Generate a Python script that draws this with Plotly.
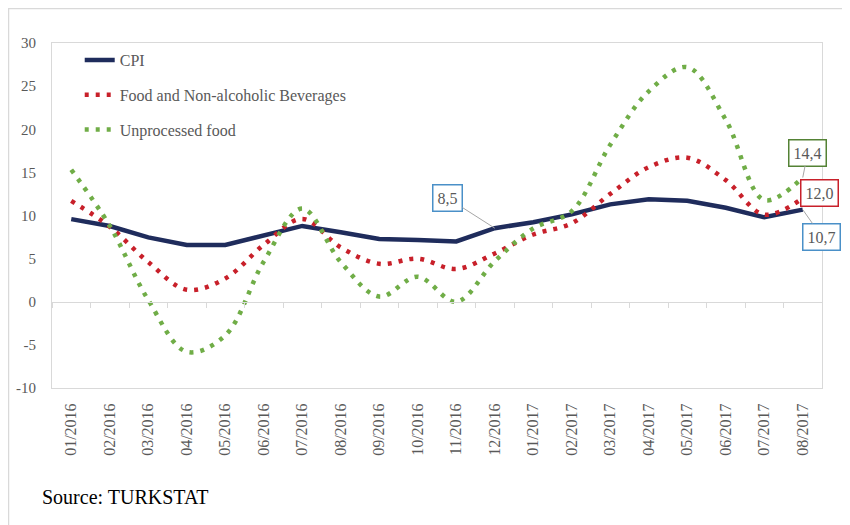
import plotly.graph_objects as go

months = ["01/2016", "02/2016", "03/2016", "04/2016", "05/2016", "06/2016", "07/2016",
          "08/2016", "09/2016", "10/2016", "11/2016", "12/2016", "01/2017", "02/2017",
          "03/2017", "04/2017", "05/2017", "06/2017", "07/2017", "08/2017"]
cpi = [9.58, 8.78, 7.46, 6.57, 6.58, 7.64, 8.79, 8.05, 7.28, 7.16, 7.00, 8.53,
       9.22, 10.13, 11.29, 11.87, 11.72, 10.90, 9.79, 10.68]
food = [11.7, 8.7, 4.6, 1.4, 2.7, 6.6, 9.6, 6.3, 4.4, 5.0, 3.8, 5.6,
        7.8, 9.1, 12.5, 15.6, 16.7, 14.1, 10.1, 12.0]
unproc = [15.3, 8.8, 0.2, -5.8, -3.9, 4.65, 10.8, 4.6, 0.6, 2.9, 0.0, 4.7,
          8.5, 10.5, 18.2, 24.4, 27.2, 21.1, 11.8, 14.4]
y_ticks = [-10, -5, 0, 5, 10, 15, 20, 25, 30]
y_labels = ["-10", "-5", "0", "5", "10", "15", "20", "25", "30"]

NAVY = "#1F2C5C"
RED = "#C8202A"
GREEN = "#70AD47"
GRID = "#D9D9D9"
TXT = "#595959"
FONT = "Liberation Serif"

fig = go.Figure()
fig.add_trace(go.Scatter(x=months, y=cpi, mode="lines", name="CPI",
                         line=dict(color=NAVY, width=4.5), legendgroup="a"))
fig.add_trace(go.Scatter(x=months, y=food, mode="lines", name="Food and Non-alcoholic Beverages",
                         line=dict(color=RED, width=4.5, dash="4px,7px", shape="spline", smoothing=1),
                         legendgroup="b"))
fig.add_trace(go.Scatter(x=months, y=unproc, mode="lines", name="Unprocessed food",
                         line=dict(color=GREEN, width=4.5, dash="4px,7px", shape="spline", smoothing=1),
                         legendgroup="c"))
# invisible trace to carry the zero-crossing axis with boundary ticks
fig.add_trace(go.Scatter(x=months, y=[None] * len(months), xaxis="x2", mode="lines",
                         showlegend=False, hoverinfo="skip"))

fig.update_layout(
    width=842, height=517,
    margin=dict(l=44, r=28, t=35, b=137, autoexpand=False),
    paper_bgcolor="white", plot_bgcolor="white",
    font=dict(family=FONT, color=TXT, size=16),
    showlegend=True,
    legend=dict(x=0.036, y=1.0, xanchor="left", yanchor="top",
                bgcolor="rgba(0,0,0,0)", font=dict(size=16, color=TXT, family=FONT),
                tracegroupgap=11),
    xaxis=dict(type="category", range=[-0.5, len(months) - 0.5], showline=True, mirror=True,
               linecolor=GRID, linewidth=1, showgrid=False, ticks="", tickangle=-90,
               tickfont=dict(size=16, color=TXT, family=FONT), ticklabelstandoff=8,
               automargin=False),
    xaxis2=dict(type="category", overlaying="x", anchor="free", position=0.25,
                range=[-0.5, len(months) - 0.5], showline=True, linecolor=GRID, linewidth=1,
                ticks="outside", tickson="boundaries", ticklen=5, tickcolor=GRID,
                showticklabels=False, showgrid=False, automargin=False),
    yaxis=dict(range=[-10, 30], tickvals=y_ticks, ticktext=y_labels, showline=True, mirror=True,
               linecolor=GRID, linewidth=1, showgrid=False, zeroline=False, ticks="",
               tickfont=dict(size=15, color=TXT, family=FONT), ticklabelstandoff=12,
               automargin=False),
)

def box(x, y, text, color, ax=None, ay=None):
    d = dict(x=x, y=y, xref="x", yref="y", text=text,
             font=dict(size=16, color=TXT, family=FONT),
             bgcolor="white", bordercolor=color, borderwidth=1.5, borderpad=4)
    if ax is None:
        d.update(showarrow=False)
    else:
        d.update(showarrow=True, ax=ax, ay=ay, arrowhead=0, arrowwidth=1, arrowcolor="#A6A6A6")
    fig.add_annotation(**d)

box(months[11], cpi[11], "8,5", "#4A90C8", ax=-47, ay=-30)
box(months[-1], unproc[-1], "14,4", "#548235", ax=5, ay=-25)
fig.add_annotation(x=months[-1], y=food[-1], text="12,0", showarrow=False, xshift=17, yshift=5,
                   font=dict(size=16, color=TXT, family=FONT), bgcolor="white",
                   bordercolor=RED, borderwidth=1.5, borderpad=4)
box(months[-1], cpi[-1], "10,7", "#4A90C8", ax=19, ay=27)

fig.add_annotation(x=-0.016, y=-0.316, xref="paper", yref="paper", xanchor="left",
                   yanchor="middle", showarrow=False, text="Source: TURKSTAT",
                   font=dict(size=20, color="black", family=FONT))

# outer chart border (extends beyond the visible area on right/bottom)
fig.add_shape(type="rect", xref="paper", yref="paper",
              x0=(8.5 - 52) / 770, x1=(880 - 52) / 770, y0=(388 - 560) / 345, y1=(388 - 8.5) / 345,
              line=dict(color=GRID, width=1.5), fillcolor="rgba(0,0,0,0)", layer="below")

fig.write_html("out.html")
